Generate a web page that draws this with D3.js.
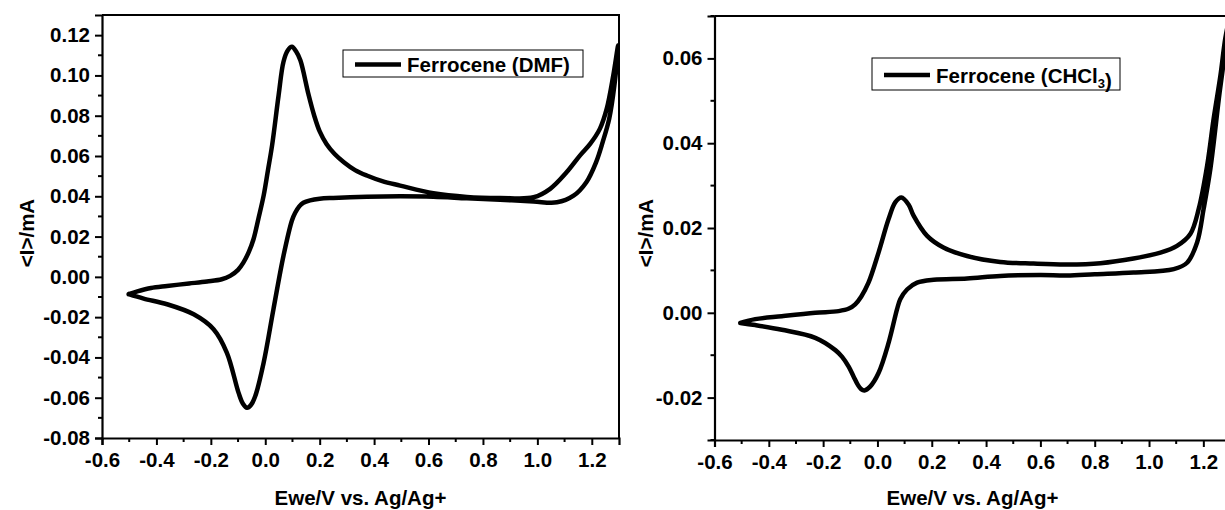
<!DOCTYPE html>
<html>
<head>
<meta charset="utf-8">
<script src="https://cdn.jsdelivr.net/npm/d3@7"></script>
<style>
  html, body { margin: 0; padding: 0; background: #fff; }
  svg { display: block; }
  text { font-family: "Liberation Sans", Arial, sans-serif; font-weight: bold; fill: #000; }
</style>
</head>
<body>
<svg id="chart" width="1225" height="510"></svg>
<script>
// Cyclic voltammograms of ferrocene in two solvents.
// Potential E in V vs. Ag/Ag+, current I in mA.

const potentialTicks = [-0.6, -0.4, -0.2, 0.0, 0.2, 0.4, 0.6, 0.8, 1.0, 1.2];
const dmfCurrentTicks = [-0.08, -0.06, -0.04, -0.02, 0.00, 0.02, 0.04, 0.06, 0.08, 0.10, 0.12];
const chclCurrentTicks = [-0.02, 0.00, 0.02, 0.04, 0.06];

// DMF: anodic sweep (-0.5 V -> 1.3 V)
const dmfForwardE = [-0.502, -0.47, -0.42, -0.361, -0.28, -0.214, -0.16, -0.129, -0.10, -0.080, -0.060, -0.043, -0.025, -0.006, 0.010, 0.025, 0.049, 0.067, 0.083, 0.098, 0.113, 0.129, 0.159, 0.180, 0.200, 0.225, 0.255, 0.290, 0.330, 0.373, 0.430, 0.496, 0.618, 0.741, 0.863, 0.986, 1.047, 1.108, 1.157, 1.194, 1.230, 1.255, 1.279, 1.297];
const dmfForwardI = [-0.0086, -0.0072, -0.0055, -0.0045, -0.0033, -0.0023, -0.0012, 0.0005, 0.0035, 0.0072, 0.0125, 0.0188, 0.0290, 0.0403, 0.0530, 0.0652, 0.0901, 0.1068, 0.1125, 0.1142, 0.1120, 0.1075, 0.0905, 0.0800, 0.0722, 0.0660, 0.0610, 0.0568, 0.0530, 0.0503, 0.0475, 0.0453, 0.0415, 0.0397, 0.0392, 0.0395, 0.0437, 0.0520, 0.0603, 0.0660, 0.0736, 0.0835, 0.1000, 0.1150];
// DMF: cathodic sweep (1.3 V -> -0.5 V)
const dmfReverseE = [1.297, 1.283, 1.264, 1.240, 1.216, 1.180, 1.133, 1.072, 0.986, 0.863, 0.741, 0.618, 0.496, 0.373, 0.25, 0.20, 0.165, 0.140, 0.125, 0.110, 0.098, 0.067, 0.030, -0.006, -0.037, -0.052, -0.067, -0.082, -0.098, -0.141, -0.190, -0.263, -0.361, -0.447, -0.502];
const dmfReverseI = [0.1150, 0.0950, 0.0785, 0.0669, 0.0570, 0.0470, 0.0403, 0.0370, 0.0374, 0.0383, 0.0390, 0.0398, 0.0400, 0.0398, 0.0392, 0.0388, 0.0380, 0.0368, 0.0350, 0.0318, 0.0280, 0.0105, -0.0161, -0.0426, -0.0593, -0.0635, -0.0650, -0.0630, -0.0576, -0.0377, -0.0260, -0.0186, -0.0136, -0.0108, -0.0086];

// CHCl3: anodic sweep
const chclForwardE = [-0.505, -0.45, -0.352, -0.229, -0.143, -0.105, -0.082, -0.06, -0.033, 0.004, 0.041, 0.066, 0.088, 0.115, 0.133, 0.182, 0.243, 0.330, 0.452, 0.575, 0.698, 0.821, 0.943, 1.042, 1.103, 1.152, 1.183, 1.214, 1.238, 1.263, 1.281, 1.298];
const chclForwardI = [-0.0024, -0.0015, -0.0008, 0.0000, 0.0004, 0.0010, 0.0020, 0.0038, 0.0071, 0.0142, 0.0221, 0.0261, 0.0272, 0.0255, 0.0229, 0.0182, 0.0154, 0.0134, 0.0120, 0.0116, 0.0114, 0.0117, 0.0128, 0.0142, 0.0158, 0.0186, 0.0245, 0.0347, 0.0458, 0.0560, 0.0648, 0.0700];
// CHCl3: cathodic sweep
const chclReverseE = [1.298, 1.281, 1.26, 1.226, 1.201, 1.177, 1.140, 1.091, 0.943, 0.80, 0.698, 0.60, 0.452, 0.330, 0.207, 0.146, 0.109, 0.084, 0.072, 0.041, 0.004, -0.027, -0.048, -0.060, -0.072, -0.088, -0.106, -0.13, -0.155, -0.229, -0.352, -0.45, -0.505];
const chclReverseI = [0.0700, 0.0620, 0.0520, 0.0340, 0.0245, 0.0166, 0.0118, 0.0103, 0.0095, 0.0091, 0.0088, 0.0089, 0.0087, 0.0081, 0.0078, 0.0071, 0.0055, 0.0032, 0.0008, -0.0071, -0.0142, -0.0174, -0.0183, -0.0180, -0.0170, -0.0150, -0.0127, -0.0104, -0.0088, -0.0059, -0.0040, -0.0029, -0.0024];

const xTitle = "Ewe/V vs. Ag/Ag+";
const yTitle = "<I>/mA";

const svg = d3.select("#chart");
const FONT = 20.5;

function zip(es, is) { return es.map((e, k) => [e, is[k]]); }
const hyphen = fmt => d => fmt(d).replace("\u2212", "-");

function drawPanel(opt) {
  const x = d3.scaleLinear().domain([-0.6, 1.3]).range([opt.left, opt.right]);
  const y = d3.scaleLinear().domain(opt.yDomain).range([opt.bottom, opt.top]);
  const g = svg.append("g");

  const clipId = "clip-" + opt.id;
  svg.append("defs").append("clipPath").attr("id", clipId)
    .append("rect").attr("x", opt.left).attr("y", opt.top)
    .attr("width", opt.right - opt.left).attr("height", opt.bottom - opt.top);

  // frame (top and right edges)
  g.append("path")
    .attr("d", `M${opt.left},${opt.top}H${opt.right}V${opt.bottom}`)
    .attr("fill", "none").attr("stroke", "#000").attr("stroke-width", 2);

  // minor ticks between majors
  const xMinor = d3.range(-0.5, 1.3, 0.2);
  const yStep = opt.yTicks[1] - opt.yTicks[0];
  const yMinor = opt.yTicks.map(v => v + yStep / 2).filter(v => v < opt.yDomain[1]);
  yMinor.unshift(opt.yTicks[0] - yStep / 2);

  const xAxis = g.append("g").attr("transform", `translate(0,${opt.bottom})`)
    .call(d3.axisBottom(x).tickValues(potentialTicks).tickSize(7).tickPadding(7)
      .tickFormat(hyphen(d3.format(".1f"))));
  xAxis.append("g").selectAll("line").data(xMinor).join("line")
    .attr("x1", d => x(d)).attr("x2", d => x(d)).attr("y1", 0).attr("y2", 4)
    .attr("stroke", "#000").attr("stroke-width", 2);

  const yAxis = g.append("g").attr("transform", `translate(${opt.left},0)`)
    .call(d3.axisLeft(y).tickValues(opt.yTicks).tickSize(7).tickPadding(5)
      .tickFormat(hyphen(d3.format(".2f"))));
  yAxis.append("g").selectAll("line").data(yMinor.filter(v => v >= opt.yDomain[0])).join("line")
    .attr("x1", 0).attr("x2", -4).attr("y1", d => y(d)).attr("y2", d => y(d))
    .attr("stroke", "#000").attr("stroke-width", 2);

  [xAxis, yAxis].forEach(a => {
    a.select(".domain").attr("stroke-width", 2.2).attr("stroke", "#000");
    a.selectAll(".tick line").attr("stroke-width", 2).attr("stroke", "#000");
    a.selectAll(".tick text").attr("font-size", FONT).attr("font-family", null);
  });
  xAxis.selectAll(".tick text").attr("dy", "0.72em");

  // axis titles
  g.append("text").attr("x", (opt.left + opt.right) / 2).attr("y", 505)
    .attr("text-anchor", "middle").attr("font-size", FONT).text(xTitle);
  g.append("text")
    .attr("transform", `translate(${opt.yTitleX},233) rotate(-90)`)
    .attr("text-anchor", "middle").attr("font-size", FONT).text(yTitle);

  // voltammogram: anodic then cathodic sweep as one closed trace
  const pts = zip(opt.fE, opt.fI).concat(zip(opt.rE, opt.rI).slice(1));
  const line = d3.line().x(d => x(d[0])).y(d => y(d[1])).curve(d3.curveCatmullRom.alpha(0.5));
  svg.append("path").datum(pts)
    .attr("clip-path", `url(#${clipId})`)
    .attr("d", line).attr("fill", "none").attr("stroke", "#000")
    .attr("stroke-width", 4.5).attr("stroke-linejoin", "round").attr("stroke-linecap", "round");

  // legend
  const lg = svg.append("g");
  lg.append("rect").attr("x", opt.legend.x).attr("y", opt.legend.y)
    .attr("width", opt.legend.w).attr("height", opt.legend.h)
    .attr("fill", "#fff").attr("stroke", "#000").attr("stroke-width", 1);
  const ly = opt.legend.y + opt.legend.h / 2 + 1;
  lg.append("line").attr("x1", opt.legend.x + 12).attr("x2", opt.legend.x + 58)
    .attr("y1", ly).attr("y2", ly).attr("stroke", "#000").attr("stroke-width", 4.5);
  const t = lg.append("text").attr("x", opt.legend.x + 64).attr("y", ly + 7.5)
    .attr("font-size", FONT);
  opt.legend.parts.forEach(p => {
    if (p.sub) {
      t.append("tspan").attr("font-size", 13).attr("dy", 5).text(p.text);
      t.append("tspan").attr("dy", -5).text("");
    } else {
      t.append("tspan").text(p.text);
    }
  });
}

drawPanel({
  id: "dmf", left: 102, right: 619, top: 15, bottom: 438, yTitleX: 33.5,
  yDomain: [-0.08, 0.13], yTicks: dmfCurrentTicks,
  fE: dmfForwardE, fI: dmfForwardI, rE: dmfReverseE, rI: dmfReverseI,
  legend: { x: 343, y: 50, w: 240, h: 27, parts: [{ text: "Ferrocene (DMF)" }] }
});

drawPanel({
  id: "chcl", left: 714.5, right: 1230.5, top: 16, bottom: 440, yTitleX: 652.5,
  yDomain: [-0.03, 0.07], yTicks: chclCurrentTicks,
  fE: chclForwardE, fI: chclForwardI, rE: chclReverseE, rI: chclReverseI,
  legend: { x: 872, y: 58, w: 248, h: 32,
    parts: [{ text: "Ferrocene (CHCl" }, { text: "3", sub: true }, { text: ")" }] }
});
</script>
</body>
</html>
